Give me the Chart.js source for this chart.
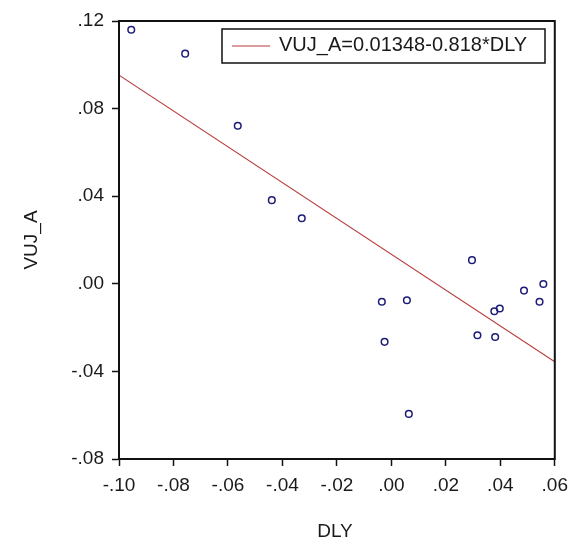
<!DOCTYPE html>
<html>
<head>
<meta charset="utf-8">
<title>VUJ_A vs DLY</title>
<script src="https://cdn.jsdelivr.net/npm/chart.js@4/dist/chart.umd.min.js"></script>
<style>
  html, body { margin: 0; padding: 0; background: #fff; }
  #wrap { width: 576px; height: 544px; }
</style>
</head>
<body>
<div id="wrap"><canvas id="scatter" width="576" height="544"></canvas></div>
<script>
// ── data ─────────────────────────────────────────────────────
const dly = [-0.0955, -0.0757, -0.0564, -0.0439, -0.0329, 0.0296, -0.0035, 0.0057,
             -0.0025, 0.0064, 0.0316, 0.0381, 0.0378, 0.0398, 0.0487, 0.0558, 0.0544];
const vujA = [0.1160, 0.1051, 0.0722, 0.0382, 0.0299, 0.0108, -0.0082, -0.0075,
              -0.0265, -0.0594, -0.0235, -0.0243, -0.0125, -0.0113, -0.0031, -0.0001, -0.0082];

// fitted line: VUJ_A = 0.01348 - 0.818*DLY
const fitIntercept = 0.01348;
const fitSlope = -0.818;
const fitX = [-0.10, 0.06];

const xTicks = { min: -0.10, max: 0.06, step: 0.02 };
const yTicks = { min: -0.08, max: 0.12, step: 0.04 };

const legendText = 'VUJ_A=0.01348-0.818*DLY';
const xTitle = 'DLY';
const yTitle = 'VUJ_A';

// ── helpers ──────────────────────────────────────────────────
const FONT = '"Liberation Sans", Arial, sans-serif';
const LINE_RED = '#b83a3a';
const DOT_BLUE = '#1c1c78';
const INK = '#1a1a1a';

// ".12", "-.08", ".00"
function evFormat(v) {
    let s = Number(v).toFixed(2);
    if (s === '-0.00') s = '0.00';
    return s.replace('0.', '.');
}

const points = dly.map((x, i) => ({ x: x, y: vujA[i] }));
const fitLine = fitX.map(x => ({ x: x, y: fitIntercept + fitSlope * x }));

// frame, legend box and axis titles
const decor = {
    id: 'decor',
    afterDatasetsDraw(chart) {
        const { ctx, chartArea: a } = chart;
        ctx.save();
        ctx.strokeStyle = '#111';
        ctx.lineWidth = 2;
        ctx.strokeRect(a.left, a.top, a.right - a.left, a.bottom - a.top);

        // legend
        const lx = 222, ly = 29, lw = 323, lh = 34;
        ctx.fillStyle = '#fff';
        ctx.fillRect(lx, ly, lw, lh);
        ctx.lineWidth = 1.5;
        ctx.strokeRect(lx, ly, lw, lh);
        ctx.strokeStyle = LINE_RED;
        ctx.lineWidth = 1.2;
        ctx.beginPath();
        ctx.moveTo(232, 46);
        ctx.lineTo(270, 46);
        ctx.stroke();
        ctx.fillStyle = INK;
        ctx.font = '20px ' + FONT;
        ctx.textBaseline = 'middle';
        ctx.textAlign = 'left';
        ctx.fillText(legendText, 279, 45);

        // axis titles
        ctx.font = '19px ' + FONT;
        ctx.textAlign = 'center';
        ctx.fillText(xTitle, 335, 532);
        ctx.translate(32, 240);
        ctx.rotate(-Math.PI / 2);
        ctx.fillText(yTitle, 0, 0);
        ctx.restore();
    }
};

const tickFont = { family: FONT, size: 19 };

new Chart(document.getElementById('scatter'), {
    type: 'scatter',
    data: {
        datasets: [
            {
                type: 'line',
                data: fitLine,
                borderColor: LINE_RED,
                borderWidth: 1.2,
                pointRadius: 0,
                fill: false,
                order: 2,
            },
            {
                data: points,
                pointStyle: 'circle',
                pointRadius: 3.3,
                pointBorderWidth: 1.5,
                pointBorderColor: DOT_BLUE,
                pointBackgroundColor: 'rgba(0,0,0,0)',
                order: 1,
            },
        ],
    },
    options: {
        responsive: false,
        animation: false,
        layout: { padding: { left: 0, right: 21, top: 21, bottom: 0 } },
        plugins: {
            legend: { display: false },
            tooltip: { enabled: false },
        },
        scales: {
            x: {
                type: 'linear',
                min: xTicks.min,
                max: xTicks.max,
                afterFit(scale) { scale.height = 85; },
                ticks: {
                    stepSize: xTicks.step,
                    color: INK,
                    font: tickFont,
                    padding: 8,
                    maxRotation: 0,
                    callback: evFormat,
                },
                grid: {
                    drawOnChartArea: false,
                    drawTicks: true,
                    tickLength: 7,
                    tickColor: '#111',
                    tickWidth: 1.5,
                },
                border: { display: true, color: '#111', width: 2 },
            },
            y: {
                type: 'linear',
                min: yTicks.min,
                max: yTicks.max,
                afterFit(scale) { scale.width = 119; },
                ticks: {
                    stepSize: yTicks.step,
                    color: INK,
                    font: tickFont,
                    padding: 8,
                    callback: evFormat,
                },
                grid: {
                    drawOnChartArea: false,
                    drawTicks: true,
                    tickLength: 7,
                    tickColor: '#111',
                    tickWidth: 1.5,
                },
                border: { display: true, color: '#111', width: 2 },
            },
        },
    },
    plugins: [decor],
});
</script>
</body>
</html>
